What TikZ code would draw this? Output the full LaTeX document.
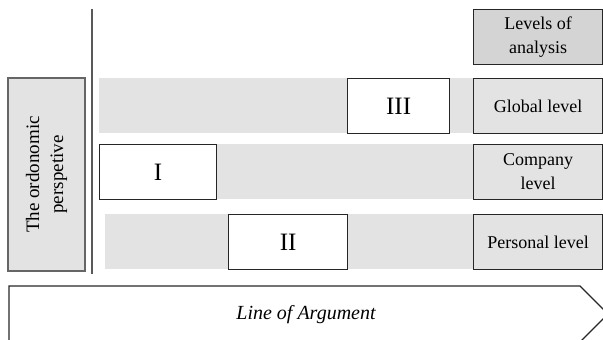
\documentclass[tikz,border=0pt]{standalone}
\usepackage{fontspec}
\setmainfont{Liberation Serif}

\definecolor{bandgray}{RGB}{227,227,227}
\definecolor{headgray}{RGB}{212,212,212}

\begin{document}
\begin{tikzpicture}[x=0.5pt,y=-0.5pt,
  band/.style={fill=bandgray,draw=none,inner sep=0pt,minimum height=27.5pt,anchor=north west},
  roman/.style={draw=black!85,fill=white,line width=0.6pt,inner sep=0pt,minimum height=27.5pt,anchor=north west,font=\fontsize{12.5}{14}\selectfont},
  level/.style={draw=black!85,fill=bandgray,line width=0.6pt,inner sep=0pt,minimum width=64.5pt,minimum height=27.5pt,anchor=north west,align=center,font=\fontsize{9}{12}\selectfont}]

\useasboundingbox (0,0) rectangle (603,340);

% levels of analysis
\node[level,fill=headgray] (head) at (473,9) {Levels of\\analysis};
\node[level] (global) at (473,78) {Global level};
\node[level] (company) at (473,144) {Company\\level};
\node[level] (personal) at (473,214) {Personal level};

% grey bands, one per level
\node[band,minimum width=187pt] (bandA) at (99,78) {};
\node[band,minimum width=187pt] (bandB) at (99,144) {};
\node[band,minimum width=184pt] (bandC) at (105,214) {};

% the three steps
\node[roman,minimum width=51pt] (III) at (347,78) {III};
\node[roman,minimum width=58.5pt] (I) at (99,144) {I};
\node[roman,minimum width=59.5pt] (II) at (228,214) {II};

% perspective box and separator
\node[draw=black!60,fill=bandgray,line width=0.6pt,inner sep=0pt,
  minimum width=96.5pt,minimum height=38.5pt,rotate=90,align=center,
  font=\fontsize{9.5}{12}\selectfont] (persp) at (46.5,174.5) {The ordonomic\\perspetive};
\draw[black!65,line width=0.6pt] (92,9) -- (92,274);

% argument arrow
\coordinate (argNW) at (9,286);
\coordinate (argTip) at (608,314);
\draw[black!85,line width=0.6pt] (argNW) -- (580,286) -- (argTip) -- (580,342) -- (9,342) -- cycle;
\node[font=\fontsize{10}{12}\selectfont\itshape] (arg) at (306,315) {Line of Argument};
\end{tikzpicture}
\end{document}
